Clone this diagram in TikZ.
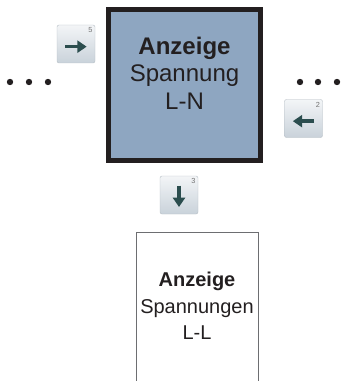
\documentclass[tikz,border=0pt]{standalone}
\usepackage{fontspec}
\setmainfont{Liberation Sans}
\usetikzlibrary{arrows.meta, positioning}
\definecolor{sblue}{HTML}{8EA6C1}
\definecolor{sdark}{HTML}{231F20}
\definecolor{sgray}{HTML}{6D6E71}
\definecolor{keytop}{HTML}{F3F5F7}
\definecolor{keybot}{HTML}{C9D2DA}
\definecolor{keyink}{HTML}{2B4D4E}

\tikzset{
  mainbox/.style={draw=sdark, fill=sblue, line width=3.75pt, minimum width=114pt,
    minimum height=113.25pt, inner sep=0pt},
  boxtext/.style={align=center, text=sdark},
  keycap/.style={minimum size=28.5pt, inner sep=0pt, rounded corners=1.5pt,
    top color=keytop, bottom color=keybot, draw=keybot!90!black, line width=0.3pt},
  keyarrow/.style={draw=keyink, line width=2.6pt, -{Triangle[length=7pt, width=9pt]}},
  keynum/.style={font=\fontsize{5.5}{5.5}\selectfont, text=black!55, anchor=north east,
    inner sep=1.8pt}
}

\begin{document}
\begin{tikzpicture}[x=0.75pt, y=-0.75pt]
  \useasboundingbox (0,0) rectangle (341,381);

  %% upper display box
  \node[mainbox] (boxLN) at (184.5,85) {};
  \node[boxtext, font=\fontsize{18}{20.5}\selectfont] (txtLN) at (184.5,73)
    {\textbf{Anzeige}\\Spannung\\L-N};

  %% lower display box, open at the bottom
  \node[boxtext, font=\fontsize{15}{20}\selectfont] (txtLL) at (197,306)
    {\textbf{Anzeige}\\Spannungen\\L-L};
  \coordinate (llNW) at (136,232.5);
  \coordinate (llNE) at (258,232.5);
  \draw[sgray, line width=0.75pt] ([yshift=-120pt]llNW) -- (llNW) -- (llNE) -- ([yshift=-120pt]llNE);

  %% keys
  \node[keycap] (keyRight) at (76,44) {};
  \node[keycap] (keyLeft) at (303.5,118.5) {};
  \node[keycap] (keyDown) at (179,195) {};
  \draw[keyarrow] ([xshift=-8pt,yshift=-2pt]keyRight.center) -- ([xshift=8pt,yshift=-2pt]keyRight.center);
  \draw[keyarrow] ([xshift=8pt,yshift=-2pt]keyLeft.center) -- ([xshift=-8pt,yshift=-2pt]keyLeft.center);
  \draw[keyarrow] ([yshift=7pt]keyDown.center) -- ([yshift=-9pt]keyDown.center);
  \node[keynum] (numRight) at (keyRight.north east) {5};
  \node[keynum] (numLeft) at (keyLeft.north east) {2};
  \node[keynum] (numDown) at (keyDown.north east) {3};

  %% more menu entries on both sides
  \foreach \x in {10,29,48,300,318,337}{
    \fill[sdark] (\x,82) circle (3.2);
  }

\end{tikzpicture}
\end{document}
